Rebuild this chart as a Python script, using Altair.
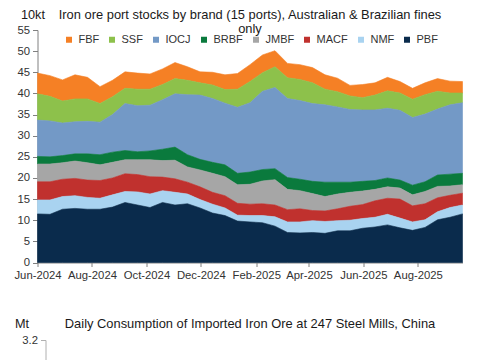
import altair as alt
import pandas as pd

dates = list(pd.date_range("2024-06-01", periods=35, freq="14D").strftime("%Y-%m-%dT00:00:00"))

brands = ["FBF", "SSF", "IOCJ", "BRBF", "JMBF", "MACF", "NMF", "PBF"]
colors = ["#F58025", "#8DC14B", "#7399C6", "#0A7A3D", "#A6A6A6", "#C0312E", "#A9D3F0", "#0A2B4C"]

PBF = [11.5, 11.4, 12.6, 12.8, 12.6, 12.6, 13.1, 14.2, 13.6, 13.0, 14.2, 13.6, 13.9, 12.9, 11.7, 11.1, 9.8, 9.6, 9.4, 8.6, 7.1, 7.0, 7.1, 6.9, 7.5, 7.5, 8.1, 8.4, 8.9, 8.2, 7.6, 8.3, 10.1, 10.7, 11.5]
NMF = [3.3, 3.4, 3.0, 3.0, 2.8, 2.6, 2.9, 2.6, 3.1, 3.2, 2.8, 3.0, 2.3, 2.0, 2.1, 1.8, 1.4, 1.5, 1.7, 2.2, 2.5, 2.6, 2.8, 2.8, 2.4, 2.5, 2.3, 2.3, 2.5, 2.3, 2.0, 1.8, 1.9, 2.3, 2.1]
MACF = [4.3, 4.3, 4.1, 4.1, 4.1, 4.2, 4.0, 4.2, 4.1, 4.1, 3.2, 3.2, 2.8, 3.0, 2.8, 2.9, 2.8, 2.7, 2.8, 2.8, 2.9, 3.1, 2.4, 2.5, 2.8, 3.3, 3.3, 3.9, 3.8, 4.5, 3.8, 3.8, 3.3, 2.9, 2.8]
JMBF = [4.2, 4.2, 3.9, 4.1, 4.1, 3.7, 3.7, 3.3, 3.5, 4.0, 3.9, 4.4, 3.6, 4.0, 4.5, 4.5, 4.4, 4.7, 5.4, 6.0, 4.8, 4.3, 4.0, 3.4, 3.5, 3.3, 3.2, 2.7, 2.7, 2.6, 2.6, 2.9, 2.7, 2.2, 2.0]
BRBF = [1.8, 1.7, 1.7, 1.7, 2.1, 2.4, 2.4, 2.2, 1.9, 2.1, 2.7, 3.1, 2.9, 2.5, 2.6, 2.8, 2.7, 2.9, 2.7, 2.6, 2.8, 2.7, 2.9, 3.4, 2.8, 2.4, 2.3, 2.1, 2.1, 1.9, 2.3, 2.3, 2.7, 2.8, 2.7]
IOCJ = [8.6, 8.5, 7.7, 7.6, 7.7, 7.7, 8.9, 11.1, 10.9, 10.8, 11.7, 12.6, 14.2, 15.2, 15.1, 14.6, 15.6, 16.4, 18.5, 19.2, 18.7, 18.6, 18.4, 18.3, 17.8, 17.2, 16.9, 16.7, 16.5, 16.5, 16.0, 16.0, 15.6, 16.4, 16.7]
SSF = [6.2, 5.8, 5.2, 5.4, 5.3, 4.4, 4.2, 3.6, 3.9, 3.8, 3.6, 3.6, 3.4, 2.9, 3.2, 3.2, 4.3, 5.0, 4.4, 4.9, 4.9, 5.0, 4.9, 3.7, 3.6, 3.2, 2.9, 3.5, 4.1, 4.1, 4.3, 4.6, 4.2, 2.8, 2.3]
FBF = [4.9, 4.9, 5.0, 5.7, 5.1, 4.0, 3.9, 3.9, 3.8, 3.6, 3.7, 3.8, 3.2, 2.6, 3.0, 3.5, 3.7, 4.0, 4.2, 3.8, 3.4, 3.5, 3.6, 3.4, 3.2, 2.5, 3.1, 2.9, 3.2, 2.7, 2.6, 2.8, 3.0, 2.8, 2.7]

y_ticks = [0, 5, 10, 15, 20, 25, 30, 35, 40, 45, 50, 55]
x_ticks = [(2024, 6), (2024, 8), (2024, 10), (2024, 12), (2025, 2), (2025, 4), (2025, 6), (2025, 8)]
y2_ticks = [3.2]

series = {"FBF": FBF, "SSF": SSF, "IOCJ": IOCJ, "BRBF": BRBF,
          "JMBF": JMBF, "MACF": MACF, "NMF": NMF, "PBF": PBF}
stack_rank = {"PBF": 0, "NMF": 1, "MACF": 2, "JMBF": 3, "BRBF": 4, "IOCJ": 5, "SSF": 6, "FBF": 7}

rows = []
for b, vals in series.items():
    for d, v in zip(dates, vals):
        rows.append({"date": d, "brand": b, "value": v, "rank": stack_rank[b]})
df = pd.DataFrame(rows)

FONT = "Liberation Sans"
x_domain = [alt.DateTime(year=2024, month=6, date=1), alt.DateTime(year=2025, month=9, date=20)]
x_values = [alt.DateTime(year=y, month=m, date=1) for y, m in x_ticks]

color_scale = alt.Scale(domain=brands, range=colors)

area = alt.Chart(df).mark_area(interpolate="linear", strokeWidth=0.6).encode(
    x=alt.X("date:T", scale=alt.Scale(domain=x_domain, nice=False),
            axis=alt.Axis(values=x_values, format="%b-%Y", title=None, grid=False,
                          labelFlush=False, labelOverlap=False, tickSize=4,
                          labelPadding=3, labelFontSize=11.3, labelColor="#333333",
                          domainColor="#808080", tickColor="#808080", labelFont=FONT)),
    y=alt.Y("value:Q", stack="zero", scale=alt.Scale(domain=[0, 55], nice=False),
            axis=alt.Axis(values=y_ticks, title="10kt", titleAngle=0, titleX=-17, titleY=-16,
                          titleAlign="left", titleBaseline="middle", titleFontSize=12.7,
                          titleFontWeight="normal", titleColor="#1a1a1a", titleFont=FONT,
                          grid=False, tickSize=5, labelPadding=3, labelFontSize=11.3,
                          labelColor="#333333", domainColor="#808080", tickColor="#808080",
                          labelFont=FONT, labelFlush=False)),
    color=alt.Color("brand:N", scale=color_scale, sort=brands,
                    legend=alt.Legend(orient="none", legendX=26, legendY=4, direction="horizontal",
                                      title=None, symbolType="square", symbolSize=36,
                                      symbolStrokeWidth=0, labelFontSize=11, labelFont=FONT,
                                      labelColor="#333333", columnPadding=7, labelOffset=4,
                                      padding=0)),
    stroke=alt.Stroke("brand:N", scale=color_scale, legend=None),
    order=alt.Order("rank:Q", sort="ascending"),
).properties(
    width=425, height=232.5,
    view=alt.ViewBackground(stroke=None),
    title=alt.TitleParams(
        ["Iron ore port stocks by brand (15 ports), Australian & Brazilian fines", "only"],
        fontSize=12.9, font=FONT, fontWeight="normal", color="#1a1a1a",
        lineHeight=14.5, anchor="middle", offset=-28),
)

empty = pd.DataFrame({"date": pd.Series([], dtype="object"), "mt": pd.Series([], dtype="float")})
chart2 = alt.Chart(empty).mark_line().encode(
    x=alt.X("date:T", scale=alt.Scale(domain=x_domain, nice=False), axis=None),
    y=alt.Y("mt:Q", scale=alt.Scale(domain=[2.4, 3.2], nice=False),
            axis=alt.Axis(values=y2_ticks, format=".1f", title="Mt",
                          titleAngle=0, titleX=-31, titleY=-17, titleAlign="left",
                          titleBaseline="middle", titleFontSize=12.7, titleFontWeight="normal",
                          titleColor="#1a1a1a", titleFont=FONT, grid=False, tickSize=5,
                          labelPadding=3, labelFontSize=11.3, labelColor="#333333",
                          domainColor="#b0b0b0", tickColor="#b0b0b0", labelFont=FONT,
                          offset=-8)),
).properties(
    width=425, height=200,
    view=alt.ViewBackground(stroke=None),
    title=alt.TitleParams("Daily Consumption of Imported Iron Ore at 247 Steel Mills, China",
                          fontSize=12.9, font=FONT, fontWeight="normal", color="#1a1a1a",
                          anchor="middle", offset=-14),
)

chart = alt.vconcat(area, chart2, spacing=36).properties(
    padding={"left": 5.5, "top": 0, "right": 5, "bottom": 5}
).configure_view(stroke=None).configure(font=FONT)

chart.save("out.html", embed_options={"renderer": "svg", "actions": False})
